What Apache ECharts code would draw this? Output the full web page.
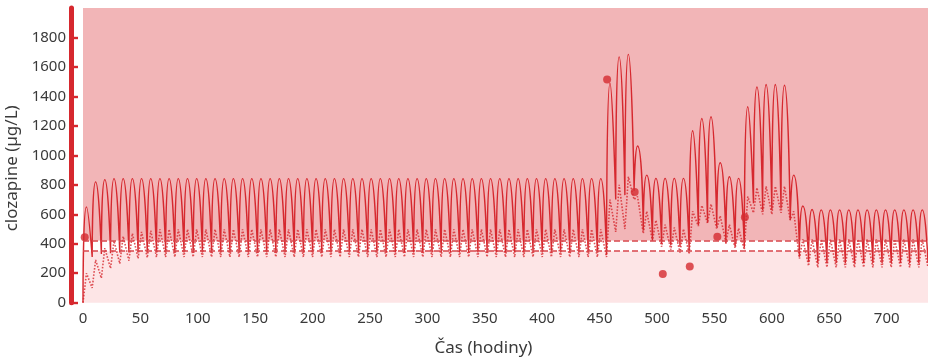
<!DOCTYPE html>
<html><head><meta charset="utf-8">
<script src="https://cdn.jsdelivr.net/npm/echarts@6/dist/echarts.min.js"></script>
<style>html,body{margin:0;padding:0;background:#fff}#c{width:928px;height:358px}</style>
</head><body><div id="c"></div>
<script>
// Dose times (h) and times of the concentration peaks (h)
const doseTimes = [
  0,8,16,24,32,40,48,56,64,72,
  80,88,96,104,112,120,128,136,144,152,
  160,168,176,184,192,200,208,216,224,232,
  240,248,256,264,272,280,288,296,304,312,
  320,328,336,344,352,360,368,376,384,392,
  400,408,416,424,432,440,448,456,464,472,
  480,488,496,504,512,520,528,536,544,552,
  560,568,576,584,592,600,608,616,624,632,
  640,648,656,664,672,680,688,696,704,712,
  720,728,736];
const peakTimes = [
  3,11,19,27,35,43,51,59,67,75,
  83,91,99,107,115,123,131,139,147,155,
  163,171,179,187,195,203,211,219,227,235,
  243,251,259,267,275,283,291,299,307,315,
  323,331,339,347,355,363,371,379,387,395,
  403,411,419,427,435,443,451,459,467,475,
  483,491,499,507,515,523,531,539,547,555,
  563,571,579,587,595,603,611,619,627,635,
  643,651,659,667,675,683,691,699,707,715,
  723,731];
// Predicted clozapine (solid line): trough at each dose time, peak afterwards
const solidTroughs = [
  0,310,330,335,340,340,340,340,340,340,
  340,340,340,340,340,340,340,340,340,340,
  340,340,340,340,340,340,340,340,340,340,
  340,340,340,340,340,340,340,340,340,340,
  340,340,340,340,340,340,340,340,340,340,
  340,340,340,340,340,340,340,325,700,730,
  760,490,425,400,390,380,350,527,543,515,
  400,385,375,674,629,629,640,561,312,275,
  270,270,270,270,270,270,270,270,270,270,
  270,270,270];
const solidPeaks = [
  650,820,835,842,842,842,842,842,842,842,
  842,842,842,842,842,842,842,842,842,842,
  842,842,842,842,842,842,842,842,842,842,
  842,842,842,842,842,842,842,842,842,842,
  842,842,842,842,842,842,842,842,842,842,
  842,842,842,842,842,842,842,1490,1668,1685,
  1063,866,844,844,844,844,1167,1250,1262,950,
  855,844,1330,1465,1481,1481,1476,866,656,633,
  630,630,630,630,630,630,630,630,630,630,
  630,630];
// Second (dotted) curve
const dottedTroughs = [
  0,100,167,233,265,285,300,305,310,310,
  310,310,310,310,310,310,310,310,310,310,
  310,310,310,310,310,310,310,310,310,310,
  310,310,310,310,310,310,310,310,310,310,
  310,310,310,310,310,310,310,310,310,310,
  310,310,310,310,310,310,310,310,480,500,
  700,470,420,380,360,340,330,520,540,500,
  410,370,360,610,600,600,610,560,300,250,
  240,240,240,240,240,240,240,240,240,240,
  240,240,240];
const dottedPeaks = [
  200,290,370,420,450,470,480,488,498,498,
  498,498,498,498,498,498,498,498,498,498,
  498,498,498,498,498,498,498,498,498,498,
  498,498,498,498,498,498,498,498,498,498,
  498,498,498,498,498,498,498,498,498,498,
  498,498,498,498,498,498,498,700,800,855,
  720,620,560,530,510,500,620,660,670,590,
  530,505,720,780,790,790,790,620,430,430,
  430,430,430,430,430,430,430,430,430,430,
  430,430];
// Measured levels (dots)
const sampleTimes = [1.5, 456.5, 480.5, 505, 528.5, 552.5, 576.5];
const sampleValues = [445, 1515, 752, 195, 245, 448, 580];
// Reference thresholds
const upperLimit = 420;
const lowerLimit = 350;
const xMax = 736, xStep = 50;
const yMax = 2000, yStep = 200;

const RED = '#d6282e';
const TXT = '#3a3a3a';
const FONT = 'Noto Sans';

// Build solid curve as per-cycle segments (sharp troughs, rounded peaks)
const solidData = [];
for (let k = 0; k < solidPeaks.length; k++) {
  solidData.push([doseTimes[k], solidTroughs[k]]);
  solidData.push([peakTimes[k], solidPeaks[k]]);
  solidData.push([doseTimes[k + 1], solidTroughs[k + 1]]);
  solidData.push(['-', '-']);
}
const dottedData = [];
for (let k = 0; k < dottedPeaks.length; k++) {
  dottedData.push([doseTimes[k], dottedTroughs[k]]);
  dottedData.push([peakTimes[k], dottedPeaks[k]]);
}
dottedData.push([doseTimes[dottedPeaks.length], dottedTroughs[dottedPeaks.length]]);
const sampleData = sampleTimes.map((t, i) => [t, sampleValues[i]]);

const chart = echarts.init(document.getElementById('c'), null, {renderer: 'canvas'});
chart.setOption({
  animation: false,
  backgroundColor: '#ffffff',
  grid: {left: 83, right: 0, top: 8, bottom: 55.3, containLabel: false, outerBoundsMode: 'none'},
  xAxis: {
    type: 'value', min: 0, max: xMax, interval: xStep,
    name: 'Čas (hodiny)', nameLocation: 'middle', nameGap: 37,
    nameTextStyle: {fontFamily: FONT, fontSize: 17, color: TXT, padding: [0, 44, 0, 0]},
    axisLine: {show: false, onZero: false}, axisTick: {show: false}, splitLine: {show: false},
    axisLabel: {fontFamily: FONT, fontSize: 15, color: TXT, margin: 9, showMaxLabel: false,
      formatter: v => String(v)}
  },
  yAxis: {
    type: 'value', min: 0, max: yMax, interval: yStep, offset: 12,
    name: 'clozapine (µg/L)', nameLocation: 'middle', nameGap: 42,
    nameTextStyle: {fontFamily: FONT, fontSize: 17, color: TXT, padding: [0, 26, 0, 0]},
    axisLine: {show: true, onZero: false, lineStyle: {color: RED, width: 5}},
    axisTick: {show: true, inside: true, length: 7, lineStyle: {color: RED, width: 2.4}},
    splitLine: {show: false},
    axisLabel: {fontFamily: FONT, fontSize: 15, color: TXT, margin: 5, showMaxLabel: false,
      formatter: v => String(v)}
  },
  series: [
    {
      type: 'line', data: [], z: 0, silent: true,
      markArea: {
        silent: true,
        data: [
          [{yAxis: upperLimit, itemStyle: {color: '#f2b5b7'}}, {yAxis: yMax}],
          [{yAxis: lowerLimit, itemStyle: {color: '#ffffff'}}, {yAxis: upperLimit}],
          [{yAxis: 0, itemStyle: {color: '#fde5e6'}}, {yAxis: lowerLimit}]
        ]
      }
    },
    {
      type: 'line', data: dottedData, z: 2, showSymbol: false, silent: true,
      lineStyle: {color: RED, width: 1.6, type: 'dotted', opacity: 0.8}
    },
    {
      type: 'line', data: solidData, z: 3, showSymbol: false, silent: true,
      smooth: 0.8, connectNulls: false,
      lineStyle: {color: RED, width: 1.4},
      markLine: {
        silent: true, symbol: ['none', 'none'], label: {show: false},
        lineStyle: {color: '#d7454b', width: 1.6, type: [6, 3]},
        data: [{yAxis: upperLimit}, {yAxis: lowerLimit}]
      }
    },
    {
      type: 'scatter', data: sampleData, z: 4, symbolSize: 8, silent: true,
      itemStyle: {color: '#d42a2f'}
    }
  ]
});
</script></body></html>
